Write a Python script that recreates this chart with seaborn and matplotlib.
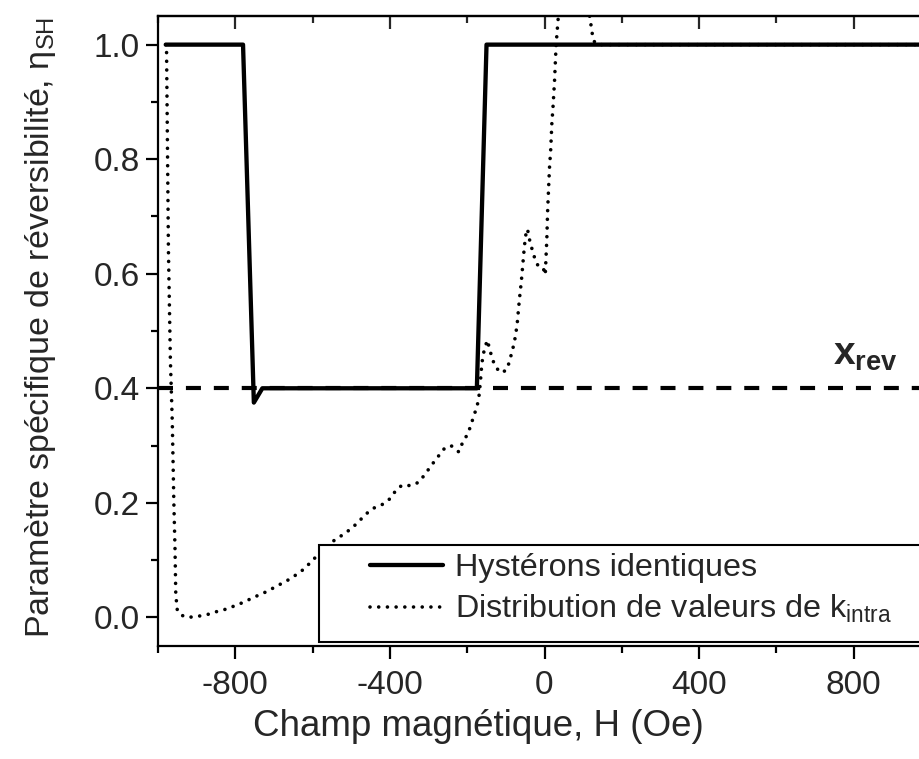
import matplotlib
matplotlib.use("Agg")
import numpy as np
import pandas as pd
import matplotlib.pyplot as plt
import seaborn as sns
from matplotlib.ticker import MultipleLocator, FormatStrFormatter
from matplotlib.patches import Rectangle

# ---------------- data ----------------
# Hystérons identiques (solid)
H_hyst = [-980, -780, -752, -730, -175, -150, 1000]
eta_hyst = [1.0, 1.0, 0.375, 0.4, 0.4, 1.0, 1.0]

# Distribution de valeurs de k_intra (dotted)
H_dist = [-980, -978, -973, -968, -963, -959, -956, -954, -950, -940, -925, -905,
          -887, -866, -844, -820, -799, -776, -753, -731, -708, -686, -664, -641,
          -621, -597, -576, -554, -531, -508, -485, -463, -441, -420, -400, -383,
          -368, -346, -325, -309, -292, -275, -260, -242, -222, -212, -199, -190,
          -184, -175, -170, -166, -162, -156, -148, -141, -134, -124, -112, -98,
          -91, -84, -78, -71, -65, -60, -56, -52, -47, -44, -41, -37, -30, -24,
          -13, -2, 2, 4, 6, 8, 11, 13, 16, 19, 22, 26, 30, 35, 45, 75, 105, 119,
          126, 135, 1000]
eta_dist = [1.0, 1.0, 0.64, 0.45, 0.34, 0.20, 0.12, 0.04, 0.012, 0.004, 0.0, 0.001,
            0.003, 0.006, 0.011, 0.015, 0.021, 0.027, 0.035, 0.041, 0.049, 0.057, 0.065, 0.075,
            0.085, 0.102, 0.114, 0.130, 0.140, 0.151, 0.164, 0.180, 0.191, 0.197, 0.207, 0.223,
            0.231, 0.230, 0.236, 0.250, 0.266, 0.281, 0.294, 0.300, 0.289, 0.305, 0.320, 0.336,
            0.350, 0.367, 0.383, 0.41, 0.444, 0.467, 0.484, 0.466, 0.449, 0.435, 0.427, 0.432,
            0.446, 0.464, 0.480, 0.510, 0.555, 0.586, 0.617, 0.648, 0.675, 0.678, 0.667, 0.654, 0.638, 0.624,
            0.609, 0.607, 0.598, 0.630, 0.660, 0.708, 0.756, 0.786, 0.816, 0.862, 0.891, 0.937, 0.999, 1.043, 1.10, 1.13, 1.10, 1.04,
            1.008, 1.0, 1.0]

x_rev = 0.4

labels = ["Hystérons identiques", r"Distribution de valeurs de k$_{\mathrm{intra}}$"]
x_ticks_major = 400
x_ticks_minor = 200
y_ticks_major = 0.2
y_ticks_minor = 0.1

df_hyst = pd.DataFrame({"H": H_hyst, "eta": eta_hyst})
df_dist = pd.DataFrame({"H": H_dist, "eta": eta_dist})

# ---------------- style ----------------
sns.set_style("ticks")
plt.rcParams["font.family"] = ["Liberation Sans", "DejaVu Sans"]
plt.rcParams["axes.unicode_minus"] = False
plt.rcParams["mathtext.fontset"] = "custom"
plt.rcParams["mathtext.rm"] = "Liberation Sans"
plt.rcParams["mathtext.it"] = "Liberation Sans:italic"
plt.rcParams["mathtext.bf"] = "Liberation Sans:bold"

W, Hh = 920, 759
fig = plt.figure(figsize=(W / 100, Hh / 100), dpi=100)
fig.patch.set_facecolor("white")
L, R, T, B = 158, 931, 16, 646
ax = fig.add_axes([L / W, 1 - B / Hh, (R - L) / W, (B - T) / Hh])
ax.set_facecolor("white")

sns.lineplot(data=df_dist, x="H", y="eta", sort=False, estimator=None, ax=ax,
             color="black", lw=2.6, linestyle=(0, (0.01, 2.4)),
             dash_capstyle="round", label=labels[1], legend=False, zorder=2)
sns.lineplot(data=df_hyst, x="H", y="eta", sort=False, estimator=None, ax=ax,
             color="black", lw=3.1, label=labels[0], legend=False, zorder=3)
ax.axhline(x_rev, color="black", lw=3.0, linestyle=(0, (3.6, 3.1)), zorder=2.5)

ax.set_xlim(-1000, 1000)
ax.set_ylim(-0.05, 1.05)

ax.xaxis.set_major_locator(MultipleLocator(x_ticks_major))
ax.xaxis.set_minor_locator(MultipleLocator(x_ticks_minor))
ax.yaxis.set_major_locator(MultipleLocator(y_ticks_major))
ax.yaxis.set_minor_locator(MultipleLocator(y_ticks_minor))
ax.yaxis.set_major_formatter(FormatStrFormatter("%.1f"))

for s in ax.spines.values():
    s.set_linewidth(1.6)
    s.set_color("black")

ax.tick_params(which="both", direction="out", width=1.6, color="black",
               top=False, right=False)
ax.tick_params(which="major", length=9)
ax.tick_params(which="minor", length=5)
ax.tick_params(axis="y", labelsize=24, pad=4)
ax.tick_params(axis="x", labelsize=24, pad=8)

secx = ax.secondary_xaxis("top")
secx.xaxis.set_major_locator(MultipleLocator(x_ticks_major))
secx.xaxis.set_minor_locator(MultipleLocator(x_ticks_minor))
secx.tick_params(which="both", direction="in", width=1.6, labeltop=False)
secx.tick_params(which="major", length=9)
secx.tick_params(which="minor", length=5)
secx.spines["top"].set_linewidth(1.6)

secy = ax.secondary_yaxis("right")
secy.yaxis.set_major_locator(MultipleLocator(y_ticks_major))
secy.yaxis.set_minor_locator(MultipleLocator(y_ticks_minor))
secy.tick_params(which="both", direction="in", width=1.6, labelright=False)
secy.tick_params(which="major", length=9)
secy.tick_params(which="minor", length=5)
secy.spines["right"].set_linewidth(1.6)

ax.set_xlabel("Champ magnétique, H (Oe)", fontsize=26.5)
ax.set_ylabel(r"Paramètre spécifique de réversibilité, η$_{\mathrm{SH}}$", fontsize=24.5)
ax.xaxis.set_label_coords(0.415, -0.10)
ax.yaxis.set_label_coords((58 - L) / (R - L), 0.505)

def px2ax(x, y):
    return (x - L) / (R - L), (B - y) / (B - T)

# x_rev label
ax.text(746, 0.441, r"$\mathbf{x}_{\mathbf{rev}}$", fontsize=28,
        ha="left", va="baseline", zorder=5)

# legend frame + legend
x0, y0 = px2ax(319.3, 641.7)
x1, y1 = px2ax(925, 545)
ax.add_patch(Rectangle((x0, y0), x1 - x0, y1 - y0, transform=ax.transAxes,
                       facecolor="white", edgecolor="black", lw=1.5,
                       zorder=4, clip_on=False))
handles = ax.get_lines()[:2]
hx, hy = px2ax(370, 553)
leg = ax.legend([handles[1], handles[0]], labels, loc="upper left",
                bbox_to_anchor=(hx, hy), frameon=False, borderpad=0,
                borderaxespad=0, handlelength=2.25, handletextpad=0.37,
                labelspacing=0.32, fontsize=23.3)
leg.set_zorder(6)

fig.savefig("out.png", dpi=100)
